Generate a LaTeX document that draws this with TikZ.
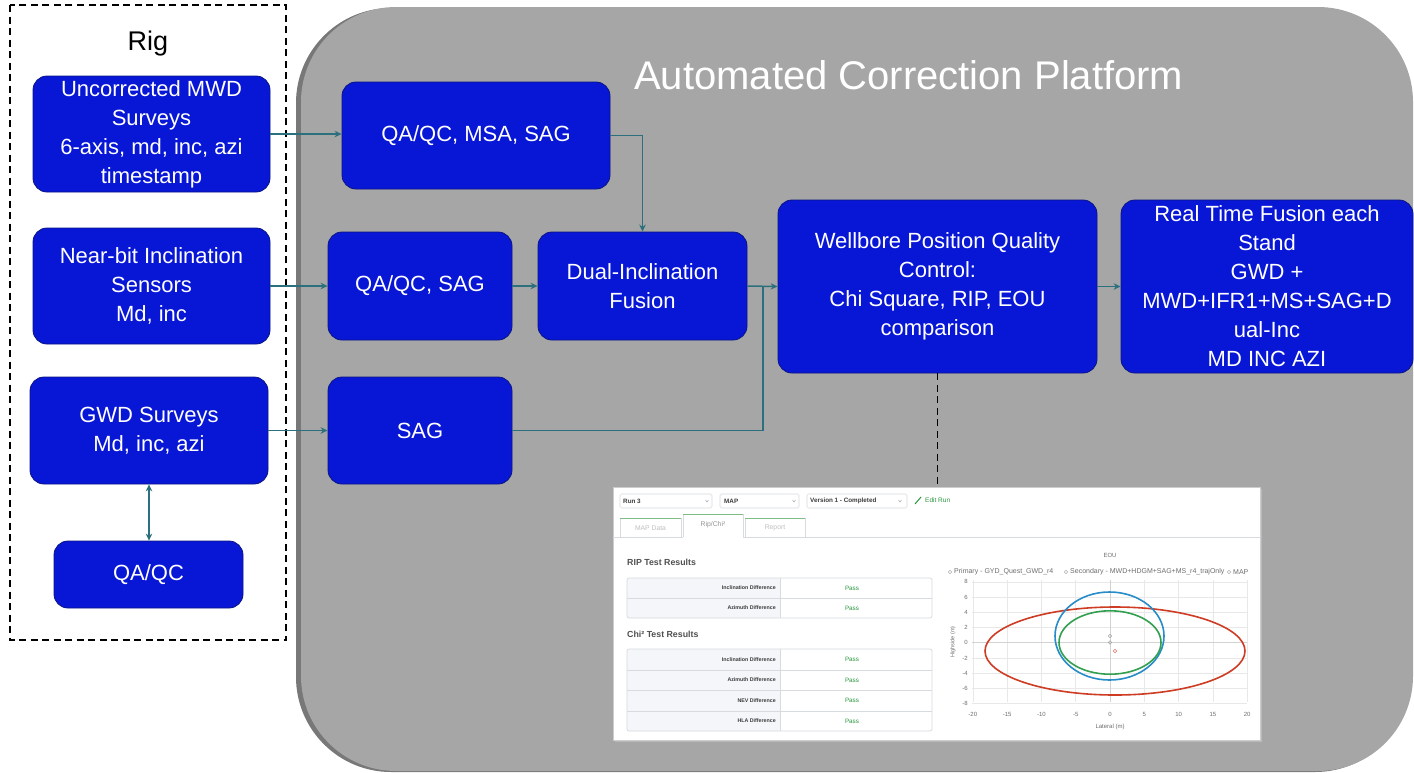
\documentclass[tikz,border=0pt]{standalone}
\usepackage{fontspec}
\setmainfont{Liberation Sans}
\usetikzlibrary{arrows.meta}
\definecolor{boxblue}{RGB}{8,22,214}
\definecolor{boxedge}{RGB}{10,20,130}
\definecolor{plat}{RGB}{166,166,166}
\definecolor{platshadow}{RGB}{120,120,120}
\definecolor{conn}{RGB}{45,112,125}
\definecolor{passgreen}{RGB}{40,150,60}
\definecolor{tabgreen}{RGB}{125,190,135}
\definecolor{tablegray}{RGB}{244,246,249}
\definecolor{linegray}{RGB}{215,218,222}
\definecolor{gridc}{RGB}{232,232,232}
\definecolor{darktxt}{RGB}{60,60,60}
\definecolor{midtxt}{RGB}{110,110,110}
\definecolor{eoured}{RGB}{205,60,35}
\definecolor{eoublue}{RGB}{40,140,200}
\definecolor{eougreen}{RGB}{50,160,80}
\begin{document}
\begin{tikzpicture}[x=1pt,y=-1pt,
  bluebox/.style={draw=boxedge, line width=0.8pt, fill=boxblue, rounded corners=14pt,
    text=white, align=center, font=\fontsize{22}{29}\selectfont, inner sep=0pt},
  flow/.style={draw=conn, line width=1.5pt, -{Stealth[length=7pt,width=6.5pt]}},
  plain/.style={draw=conn, line width=1.5pt},
  dd/.style={draw=linegray, rounded corners=1.5pt, line width=0.6pt, fill=white},
  chev/.style={draw=gray!70, line width=0.5pt},
  rowlab/.style={anchor=east, font=\fontsize{5.3}{6}\selectfont\bfseries, text=darktxt, inner sep=0pt},
  pass/.style={font=\fontsize{6.3}{7}\selectfont, text=passgreen, inner sep=0pt},
  tick/.style={font=\fontsize{6}{7}\selectfont, text=midtxt, inner sep=0pt},
  leg/.style={anchor=west, font=\fontsize{7}{8}\selectfont, text=midtxt, inner sep=0pt},
  tabtxt/.style={font=\fontsize{6.8}{8}\selectfont, inner sep=0pt},
  hdr/.style={anchor=west, font=\fontsize{8.8}{10}\selectfont\bfseries, text=darktxt!90, inner sep=0pt}
]
\useasboundingbox (0,0) rectangle (1414,772);

% platform
\fill[platshadow, rounded corners=95pt] (296,8) rectangle (1410,772);
\fill[plat, rounded corners=95pt] (301,7) rectangle (1413,771);
\node[anchor=west, text=white, font=\fontsize{40}{48}\selectfont, inner sep=0pt] (title) at (634,75) {Automated Correction Platform};

% rig container
\draw[black, line width=1.3pt, dash pattern=on 7pt off 4.5pt] (10,5) rectangle (286,640);
\node[font=\fontsize{27}{32}\selectfont, inner sep=0pt] (rig) at (148,44) {Rig};

% rig boxes
\node[bluebox, minimum width=237pt, minimum height=116pt] (mwd) at (151.5,134)
  {Uncorrected MWD\\Surveys\\6-axis, md, inc, azi\\timestamp};
\node[bluebox, minimum width=237pt, minimum height=116pt] (nb) at (151.5,286)
  {Near-bit Inclination\\Sensors\\Md, inc};
\node[bluebox, minimum width=238pt, minimum height=107pt] (gwd) at (149,430.5)
  {GWD Surveys\\Md, inc, azi};
\node[bluebox, minimum width=189pt, minimum height=67pt] (qc) at (148.5,574.5) {QA/QC};

% platform boxes
\node[bluebox, minimum width=268pt, minimum height=107pt] (qms) at (476,135.5) {QA/QC, MSA, SAG};
\node[bluebox, minimum width=184pt, minimum height=108pt] (qsag) at (420,286) {QA/QC, SAG};
\node[bluebox, minimum width=209pt, minimum height=108pt] (dual) at (642.5,286) {Dual-Inclination\\Fusion};
\node[bluebox, minimum width=184pt, minimum height=107pt] (sag) at (420,430.5) {SAG};
\node[bluebox, minimum width=319pt, minimum height=173pt] (well) at (937.5,286.5)
  {Wellbore Position Quality\\Control:\\Chi Square, RIP, EOU\\comparison};
\node[bluebox, minimum width=292pt, minimum height=173pt] (rt) at (1267,286.5)
  {Real Time Fusion each\\Stand\\GWD +\\MWD+IFR1+MS+SAG+D\\ual-Inc\\MD INC AZI};

% connectors
\draw[flow] (mwd.east) -- (mwd.east -| qms.west);
\draw[flow] (nb.east) -- (nb.east -| qsag.west);
\draw[flow] (gwd.east) -- (gwd.east -| sag.west);
\draw[flow] (qsag.east) -- (dual.west);
\draw[flow] (qms.east) -| (dual.north);
\draw[flow] (dual.east) -- (well.west);
\coordinate (join) at (763,286);
\draw[plain] (sag.east) -| (join);
\draw[flow] (well.east) -- (rt.west);
\draw[draw=conn, line width=1.5pt, {Stealth[length=7pt,width=6.5pt]}-{Stealth[length=7pt,width=6.5pt]}] (gwd.south) -- (gwd.south |- qc.north);

% inset screenshot
\fill[gray!55] (615,489) rectangle (1262,742);
\node[draw=gray!40, fill=white, minimum width=647pt, minimum height=253pt, inner sep=0pt] (inset) at (936.5,613.5) {};
\draw[black, line width=1.3pt, dash pattern=on 7pt off 4.5pt] (well.south) -- (well.south |- inset.north);

% dropdowns
\draw[dd] (620,494) rectangle (712,508);
\node[anchor=west, font=\fontsize{6.3}{7}\selectfont\bfseries, text=darktxt, inner sep=0pt] (dd1) at (623,501) {Run 3};
\draw[chev] (705.5,500) -- (707,502) -- (708.5,500);
\draw[dd] (720,494) rectangle (799,508);
\node[anchor=west, font=\fontsize{6.3}{7}\selectfont\bfseries, text=darktxt, inner sep=0pt] (dd2) at (724,501) {MAP};
\draw[chev] (792.5,500) -- (794,502) -- (795.5,500);
\draw[dd] (807,494) rectangle (907,508);
\node[anchor=west, font=\fontsize{6.3}{7}\selectfont\bfseries, text=darktxt, inner sep=0pt] (dd3) at (810,501) {Version 1 - Completed};
\draw[chev] (898.5,500) -- (900,502) -- (901.5,500);
\draw[passgreen, line width=1pt] (915,504) -- (921,497);
\node[anchor=west, font=\fontsize{6.5}{7}\selectfont, text=passgreen, inner sep=0pt] (edit) at (925,500) {Edit Run};

% tabs
\draw[linegray, line width=0.6pt] (613,537) -- (683,537) (743,537) -- (1260,537);
\draw[linegray, line width=0.6pt, fill=white] (620,537) -- (620,518) -- (681,518) -- (681,537);
\draw[tabgreen, line width=1pt] (620,518) -- (681,518);
\node[tabtxt, text=gray!50] (tab1) at (650.5,528) {MAP Data};
\draw[linegray, line width=0.6pt, fill=white] (683,537) -- (683,514) -- (743,514) -- (743,537);
\draw[tabgreen, line width=1pt] (683,514) -- (743,514);
\node[tabtxt, text=gray!85] (tab2) at (713,525) {Rip/Chi²};
\draw[linegray, line width=0.6pt, fill=white] (745,537) -- (745,518) -- (805,518) -- (805,537);
\draw[tabgreen, line width=1pt] (745,518) -- (805,518);
\node[tabtxt, text=gray!50] (tab3) at (775,528) {Report};

% RIP table
\node[hdr] (riph) at (627,562) {RIP Test Results};
\fill[tablegray, rounded corners=2pt] (627,578) rectangle (780,618);
\draw[linegray, line width=0.7pt, rounded corners=2pt] (627,578) rectangle (932,618);
\draw[linegray, line width=0.7pt] (627,598) -- (932,598) (780,578) -- (780,618);
\node[rowlab] (r1) at (776,588) {Inclination Difference};
\node[pass] (p1) at (852,588) {Pass};
\node[rowlab] (r2) at (776,608) {Azimuth Difference};
\node[pass] (p2) at (852,608) {Pass};

% Chi table
\node[hdr] (chih) at (627,634) {Chi² Test Results};
\fill[tablegray, rounded corners=2pt] (627,649) rectangle (780,731);
\draw[linegray, line width=0.7pt, rounded corners=2pt] (627,649) rectangle (932,731);
\draw[linegray, line width=0.7pt] (627,670) -- (932,670) (627,690.5) -- (932,690.5) (627,711) -- (932,711) (780,649) -- (780,731);
\node[rowlab] (c1) at (776,659.5) {Inclination Difference};
\node[pass] (q1) at (852,659.5) {Pass};
\node[rowlab] (c2) at (776,680) {Azimuth Difference};
\node[pass] (q2) at (852,680) {Pass};
\node[rowlab] (c3) at (776,700.5) {NEV Difference};
\node[pass] (q3) at (852,700.5) {Pass};
\node[rowlab] (c4) at (776,721) {HLA Difference};
\node[pass] (q4) at (852,721) {Pass};

% chart
\node[tick] (eou) at (1110,555) {EOU};
\draw[gray!60, line width=0.5pt] (950,572) circle (1.8pt);
\node[leg] (l1) at (954,572) {Primary - GYD\_Quest\_GWD\_r4};
\draw[gray!60, line width=0.5pt] (1066,572) circle (1.8pt);
\node[leg] (l2) at (1070,572) {Secondary - MWD+HDGM+SAG+MS\_r4\_trajOnly};
\draw[gray!60, line width=0.5pt] (1229,572) circle (1.8pt);
\node[leg] (l3) at (1233,572) {MAP};
\foreach \v [count=\i] in {-20,-15,...,20} {
  \draw[gridc, line width=0.5pt] ({1110+6.86*\v},580) -- ({1110+6.86*\v},702);
  \node[tick] (xt\i) at ({1110+6.86*\v},714) {\v};
}
\foreach \v [count=\i] in {8,6,...,-8} {
  \draw[gridc, line width=0.5pt] (972,{642.7-7.6*\v}) -- (1247,{642.7-7.6*\v});
  \node[tick, anchor=east] (yt\i) at (968,{642.7-7.6*\v}) {\v};
}
\draw[gray!35, line width=0.6pt] (1110,580) -- (1110,702) (972,642.7) -- (1247,642.7);
\node[tick] (xlab) at (1110,727) {Lateral (m)};
\node[tick, rotate=90, font=\fontsize{5.5}{6}\selectfont] (ylab) at (953,642) {Highside (m)};
\draw[eoured, line width=1.6pt] (1115,651) ellipse [x radius=130pt, y radius=44pt];
\draw[eoublue, line width=1.6pt] (1109.5,636) ellipse [x radius=54.5pt, y radius=44pt];
\draw[eougreen, line width=1.6pt] (1110,642.5) ellipse [x radius=51pt, y radius=31.7pt];
\draw[gray!70, line width=0.5pt] (1110,636) circle (1.8pt);
\draw[gray!70, line width=0.5pt] (1110,642.5) circle (1.8pt);
\draw[eoured!70, line width=0.5pt] (1115,651) circle (1.8pt);
\end{tikzpicture}
\end{document}
